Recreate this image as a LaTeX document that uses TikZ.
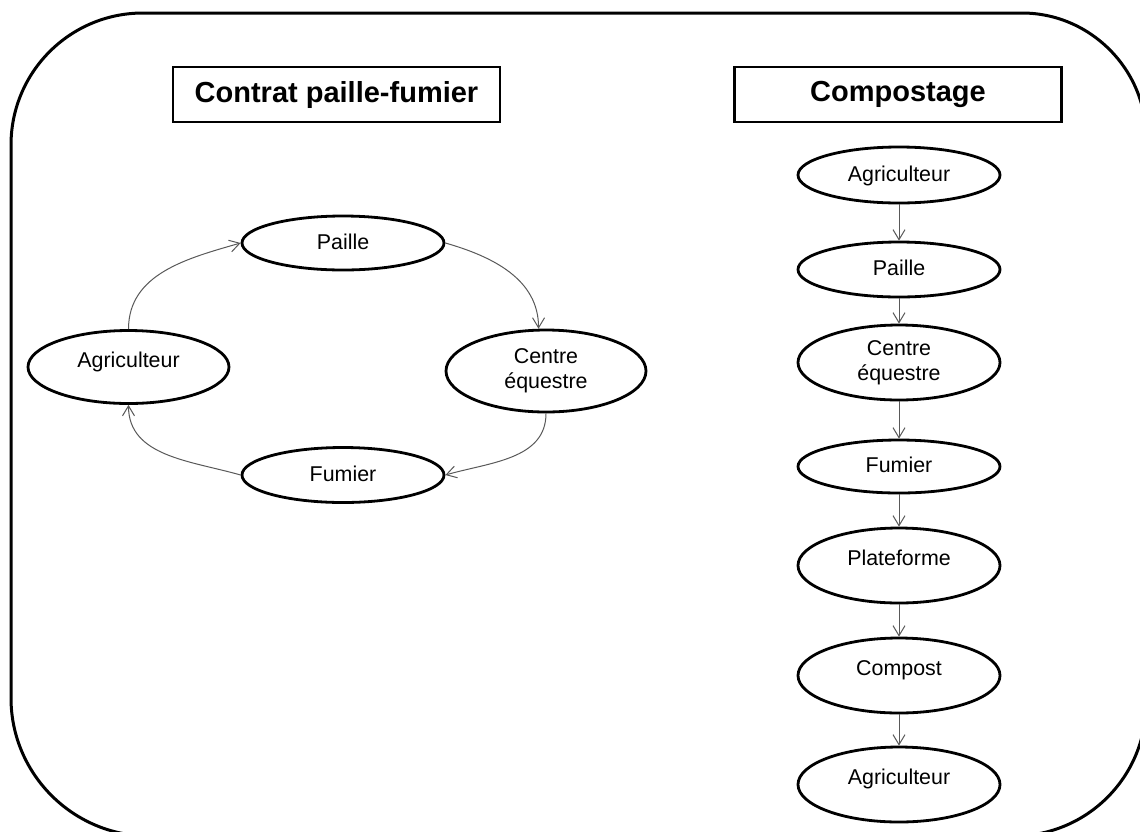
\documentclass[tikz,border=0pt]{standalone}
\usepackage{fontspec}
\setmainfont{Liberation Sans}
\usetikzlibrary{shapes.geometric,arrows.meta}
\tikzset{
  ell/.style={ellipse, draw, line width=1.4pt, inner sep=0pt, align=center,
    font=\fontsize{10.7pt}{12.5pt}\selectfont, text height=8pt, text depth=2pt},
  ellup/.style={ell, text height=8pt, text depth=8pt},
  ell2/.style={ellipse, draw, line width=1.4pt, inner sep=0pt, align=center,
    font=\fontsize{10.7pt}{12.5pt}\selectfont},
  titlebox/.style={rectangle, draw, line width=1.4pt, minimum width=163.5pt,
    minimum height=27.5pt, font=\bfseries\fontsize{14.5pt}{17pt}\selectfont},
  conn/.style={draw=black!65, line width=0.5pt,
    -{Straight Barb[length=5pt,width=6pt,line width=0.5pt]}},
  frame/.style={line width=1.5pt}
}
\begin{document}
\begin{tikzpicture}[x=0.5pt,y=-0.5pt]
\useasboundingbox (0,0) rectangle (1140,831);
\clip (0,0) rectangle (1140,831);
\fill[white] (0,0) rectangle (1140,831);

% outer frame with rounded corners (partly outside the picture)
\draw[frame]
  (11,145) .. controls (11,72) and (70,13) .. (143,13)
  -- (1022,13) .. controls (1090,13) and (1146,69) .. (1146,137)
  -- (1146,704) .. controls (1146,777) and (1087,836) .. (1014,836)
  -- (149,836) .. controls (73,836) and (11,774) .. (11,698)
  -- cycle;

% titles
\node[titlebox] (t1) at (336.5,94.5) {Contrat paille-fumier};
\node[titlebox] (t2) at (898,94.5) {Compostage};

% left cycle
\node[ell, minimum width=101pt, minimum height=27pt] (paL) at (343,243) {Paille};
\node[ellup, minimum width=100.5pt, minimum height=36.5pt] (agL) at (128.5,367) {Agriculteur};
\node[ell2, minimum width=100pt, minimum height=41pt] (ceL) at (546,371) {Centre\\équestre};
\node[ell, minimum width=101pt, minimum height=27.5pt] (fuL) at (343,475) {Fumier};

\draw[conn] (agL.north) to[out=90,in=196] (paL.west);
\draw[conn] (paL.east) to[out=-16,in=90] (ceL.100);
\draw[conn] (ceL.south) to[out=-90,in=16] (fuL.east);
\draw[conn] (fuL.west) to[out=164,in=-90] (agL.south);

% right column
\node[ell, minimum width=101pt, minimum height=28pt] (r1) at (899,175) {Agriculteur};
\node[ell, minimum width=101pt, minimum height=27.5pt] (r2) at (899,269.5) {Paille};
\node[ell2, minimum width=101pt, minimum height=37.5pt] (r3) at (899,362.5) {Centre\\équestre};
\node[ell, minimum width=101pt, minimum height=26.5pt] (r4) at (899,466.5) {Fumier};
\node[ellup, minimum width=101pt, minimum height=37.5pt] (r5) at (899,565.5) {Plateforme};
\node[ellup, minimum width=101pt, minimum height=37.5pt] (r6) at (899,675.5) {Compost};
\node[ellup, minimum width=101pt, minimum height=37.5pt] (r7) at (899,784.5) {Agriculteur};

\draw[conn] (r1.south) -- (r2.north);
\draw[conn] (r2.south) -- (r3.north);
\draw[conn] (r3.south) -- (r4.north);
\draw[conn] (r4.south) -- (r5.north);
\draw[conn] (r5.south) -- (r6.north);
\draw[conn] (r6.south) -- (r7.north);
\end{tikzpicture}
\end{document}
